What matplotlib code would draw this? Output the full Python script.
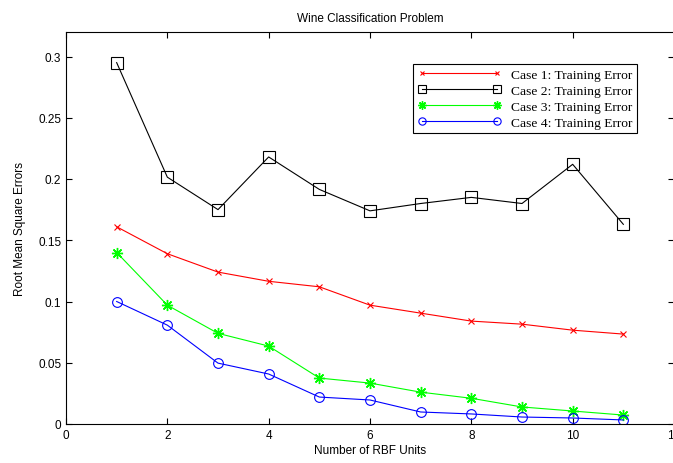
import matplotlib
matplotlib.use("Agg")
import matplotlib.pyplot as plt
from matplotlib.ticker import FormatStrFormatter

# rbf units on x axis
units = [1, 2, 3, 4, 5, 6, 7, 8, 9, 10, 11]

case1 = [0.161, 0.139, 0.124, 0.1165, 0.112, 0.097, 0.0905, 0.084, 0.0815, 0.0766, 0.0734]
case2 = [0.295, 0.2015, 0.175, 0.218, 0.1915, 0.174, 0.180, 0.185, 0.180, 0.212, 0.163]
case3 = [0.140, 0.097, 0.074, 0.0636, 0.0375, 0.0334, 0.026, 0.021, 0.0139, 0.0106, 0.0073]
case4 = [0.100, 0.0807, 0.0497, 0.0408, 0.022, 0.0196, 0.0098, 0.0082, 0.0057, 0.0049, 0.0033]

labels = ["Case 1: Training Error", "Case 2: Training Error",
          "Case 3: Training Error", "Case 4: Training Error"]

xticks = [0, 2, 4, 6, 8, 10, 12]
yticks = [0, 0.05, 0.1, 0.15, 0.2, 0.25, 0.3]

plt.rcParams['font.family'] = ['Liberation Sans', 'DejaVu Sans']

fig = plt.figure(figsize=(6.73, 4.64), dpi=100)
ax = fig.add_axes([66/673, (464-425)/464, (674-66)/673, (425-33)/464])

ax.plot(units, case1, color="#ff0000", lw=0.8, marker="x", markersize=4.5, mew=0.8, label=labels[0])
ax.plot(units, case2, color="#000000", lw=0.8, marker="s", markersize=8, mfc="none", mew=0.8, label=labels[1])
# matlab style asterisk
ax.plot(units, case3, color="#00ff00", lw=0.8, marker=(8, 2, 0), markersize=8, mew=1.0, label=labels[2])
ax.plot(units, case4, color="#0000ff", lw=0.8, marker="o", markersize=7, mfc="none", mew=0.8, label=labels[3])

ax.set_xlim(0, 12)
ax.set_ylim(0, 0.32)
ax.set_xticks(xticks)
ax.set_yticks(yticks)
ax.yaxis.set_major_formatter(FormatStrFormatter('%g'))
ax.tick_params(direction="in", top=True, right=True, labelsize=8.5, length=4, width=0.8)
for s in ax.spines.values():
    s.set_linewidth(0.8)

ax.set_title("Wine Classification Problem", fontsize=8.5, pad=8)
ax.set_xlabel("Number of RBF Units", fontsize=8.5, labelpad=2)
ax.set_ylabel("Root Mean Square Errors", fontsize=8.5, labelpad=9)

leg = ax.legend(loc="upper left", bbox_to_anchor=((413-66)/608, (425-65)/392),
                numpoints=2, handlelength=6.2, fancybox=False, framealpha=1,
                edgecolor="black", borderpad=0.35, labelspacing=0.25,
                handletextpad=0.7, borderaxespad=0, markerscale=0.75,
                prop={'family': 'Liberation Serif', 'size': 9.7})
leg.get_frame().set_linewidth(0.8)

fig.savefig("out.png", dpi=100)
